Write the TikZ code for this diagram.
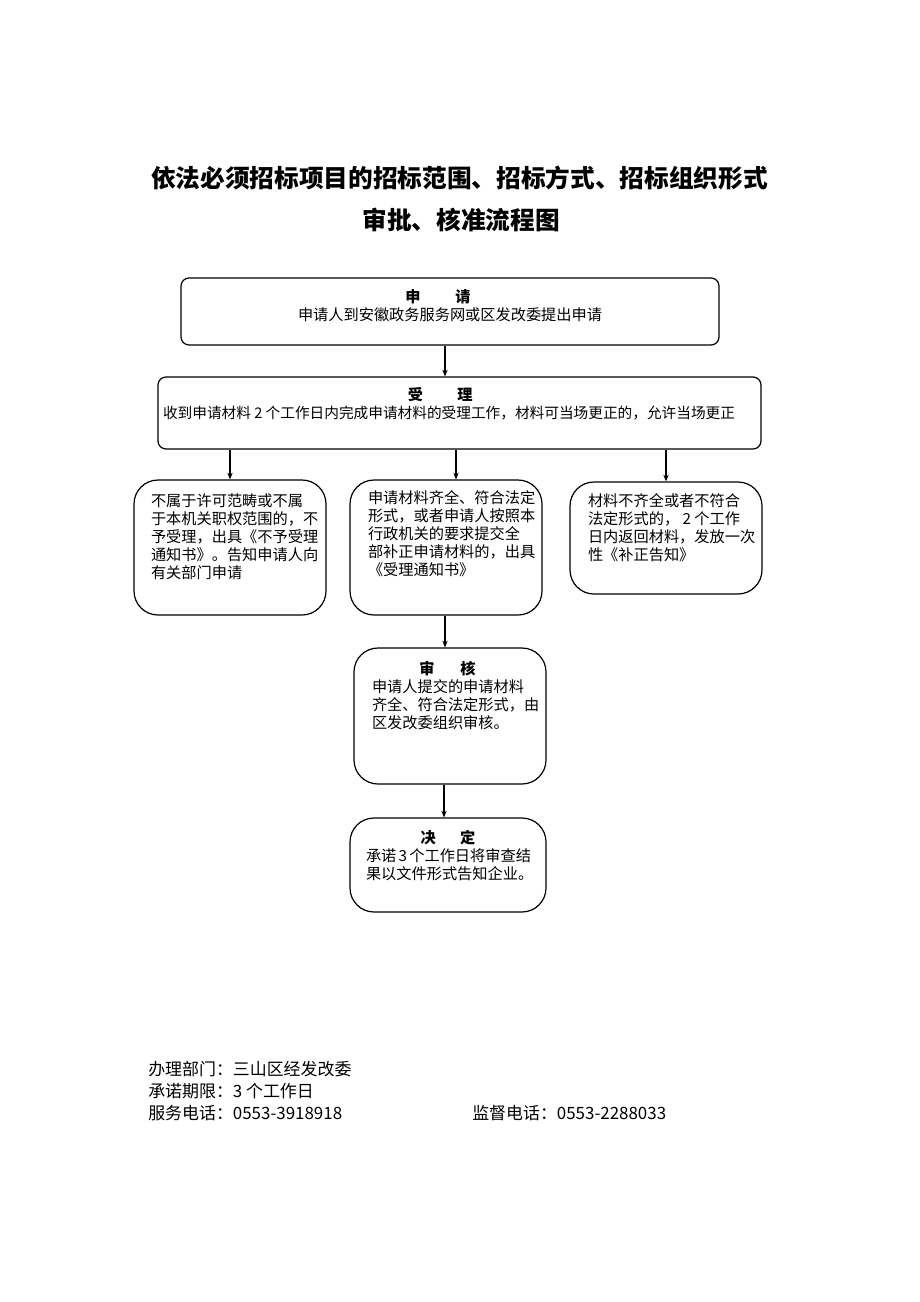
\documentclass[tikz,border=0pt]{standalone}
\usepackage{fontspec}
\setmainfont{Noto Sans CJK SC}
\usetikzlibrary{arrows.meta}
\newcommand{\flowtext}[4]{\parbox[c][#2][t]{#1}{\vspace*{#3}#4}}
\newcommand{\heading}[4][0pt]{{\centering\bfseries #2\hspace{#3}#4\hspace*{#1}\par}}
\newcommand{\bodyfont}{\fontsize{11.4}{13.5}\selectfont}

\begin{document}
\begin{tikzpicture}[x=0.75pt,y=-0.75pt]
\tikzset{
  flowbox/.style={draw, line width=0.9pt, inner ysep=0pt, font=\bodyfont},
  topbox/.style={flowbox, rounded corners=6pt},
  lowbox/.style={flowbox, rounded corners=18pt, inner xsep=13.5pt},
  arr/.style={-{Stealth[length=5pt,width=4pt]}, line width=0.9pt},
  foot/.style={anchor=west, inner sep=0pt, font=\fontsize{12.7}{15}\selectfont}
}
\useasboundingbox (0,0) rectangle (920,1302);

% title
\node[font=\bfseries\fontsize{18.5}{22}\selectfont] (title) at (459.5,178) {依法必须招标项目的招标范围、招标方式、招标组织形式};
\node[font=\bfseries\fontsize{18.5}{22}\selectfont] (subtitle) at (461,220) {审批、核准流程图};

% boxes
\node[topbox, inner xsep=0pt] (apply) at (450,311.5)
  {\flowtext{403.5pt}{50.25pt}{9pt}{\heading[18pt]{申}{2.3em}{请}\centering 申请人到安徽政务服务网或区发改委提出申请\par}};
\node[topbox, inner xsep=3.75pt] (accept) at (459.5,413)
  {\flowtext{444.75pt}{54pt}{8pt}{\heading[29pt]{受}{2.25em}{理}{\fontsize{11}{13.5}\selectfont 收到申请材料 2 个工作日内完成申请材料的受理工作，材料可当场更正的，允许当场更正\par}}};

\node[lowbox, inner xsep=12.75pt] (reject) at (230,547.5)
  {\flowtext{118.5pt}{101.25pt}{10.5pt}{\raggedright 不属于许可范畴或不属\\于本机关职权范围的，不\\予受理，出具《不予受理\\通知书》。告知申请人向\\有关部门申请\par}};
\node[lowbox] (admit) at (446,547.5)
  {\flowtext{117pt}{101.25pt}{8.25pt}{\raggedright 申请材料齐全、符合法定\\形式，或者申请人按照本\\行政机关的要求提交全\\部补正申请材料的，出具\\《受理通知书》\par}};
\node[lowbox] (amend) at (666,538)
  {\flowtext{117pt}{84pt}{9pt}{\raggedright 材料不齐全或者不符合\\法定形式的，~2~个工作\\日内返回材料，发放一次\\性《补正告知》\par}};

\node[lowbox] (review) at (450,716)
  {\flowtext{117pt}{102pt}{10pt}{\heading[3.75pt]{审}{1.7em}{核}\raggedright 申请人提交的申请材料\\齐全、符合法定形式，由\\区发改委组织审核。\par}};
\node[lowbox, inner xsep=12pt] (decide) at (448,865)
  {\flowtext{123pt}{70.5pt}{9.25pt}{\heading{决}{1.6em}{定}\raggedright 承诺~3~个工作日将审查结\\果以文件形式告知企业。\par}};

% arrows
\draw[arr] ([xshift=-3.75pt]apply.south) -- ([xshift=-3.75pt]apply.south |- accept.north);
\draw[arr] (accept.south -| reject.north) -- (reject.north);
\draw[arr] ([xshift=7.5pt]admit.north |- accept.south) -- ([xshift=7.5pt]admit.north);
\draw[arr] (accept.south -| amend.north) -- (amend.north);
\draw[arr] ([xshift=-0.75pt]admit.south) -- ([xshift=-0.75pt]admit.south |- review.north);
\draw[arr] ([xshift=-4.5pt]review.south) -- ([xshift=-4.5pt]review.south |- decide.north);

% footer
\node[foot] (dept) at (148,1069) {办理部门：三山区经发改委};
\node[foot] (term) at (148,1091) {承诺期限：3 个工作日};
\node[foot] (service) at (148,1113) {服务电话：0553-3918918};
\node[foot] (supervise) at (472,1113) {监督电话：0553-2288033};
\end{tikzpicture}
\end{document}
